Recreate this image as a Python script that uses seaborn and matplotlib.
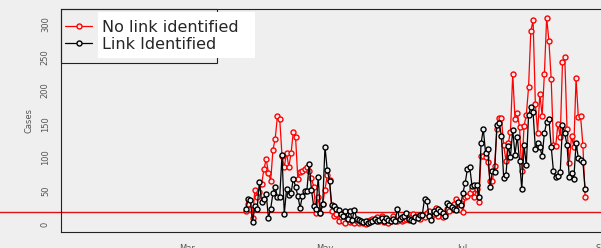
import pandas as pd
import matplotlib
matplotlib.use("Agg")
import matplotlib.pyplot as plt
import seaborn as sns
from matplotlib.patches import Rectangle

# daily counts from 27 Mar
start_date = "2020-03-27"
no_link = [20, 30, 22, 9, 51, 40, 48, 60, 82, 97, 77, 65, 111, 128, 162, 157, 102, 85, 107, 85,
           106, 138, 130, 67, 78, 80, 82, 85, 80, 69, 56, 17, 40, 17, 30, 51, 73, 66, 20,
           12, 15, 5, 10, 4, 2, 7, 3, 5, 2, 4, 1, 3, 2, 0, 4, 6, 8, 6, 10, 5, 12, 3, 7, 2,
           5, 12, 6, 4, 8, 5, 6, 8, 6, 10, 15, 10, 12, 8, 14, 10, 16, 20,
           10, 15, 24, 12, 20, 10, 15, 22, 19, 25, 30, 38, 30, 32, 18, 40, 42, 46, 52, 40,
           53, 33, 102, 102, 100, 93, 65, 64, 87, 142, 158,
           158, 118, 95, 121, 138, 225, 157, 166, 145, 79, 147, 163, 205, 289, 305, 180, 137,
           195, 162, 225, 309, 274, 217, 118, 117, 150, 130, 242, 250, 143, 92, 132, 115, 218,
           160, 161, 119, 41]
linked = [22, 37, 36, 3, 27, 23, 63, 33, 37, 45, 9, 23, 46, 55, 40, 41, 103, 15, 52, 44,
          46, 68, 56, 42, 24, 42, 50, 50, 90, 51, 27, 23, 70, 16, 30, 116, 81, 65, 28,
          27, 23, 21, 15, 12, 20, 8, 20, 6, 21, 8, 6, 5, 3, 4, 2, 3, 5, 7, 4, 6, 9, 5, 9, 6,
          4, 8, 5, 22, 7, 10, 12, 17, 7, 6, 5, 10, 9, 14, 13, 38, 35, 12,
          6, 19, 17, 23, 20, 16, 12, 32, 28, 25, 22, 21, 33, 28, 47, 62, 83, 85, 57, 59,
          59, 41, 121, 142, 106, 113, 55, 79, 78, 149, 151,
          132, 69, 74, 117, 101, 141, 104, 131, 95, 52, 118, 88, 163, 175, 167, 113, 121, 115,
          102, 136, 153, 157, 116, 79, 71, 72, 78, 148, 136, 118, 70, 76, 68, 121, 99, 96,
          93, 53]
ref_level = 17.5
y_ticks = [0, 50, 100, 150, 200, 250, 300]
x_ticks = ["2020-03-01", "2020-05-01", "2020-07-01", "2020-09-01"]
x_labels = ["Mar", "May", "Jul", "Sep"]
series_labels = ["No link identified", "Link Identified"]

df = pd.DataFrame({
    "date": pd.date_range(start_date, periods=len(no_link), freq="D"),
    "no_link": no_link,
    "linked": linked,
})

bg = "#efefef"
sns.set_style("white")
plt.rcParams["font.family"] = ["DejaVu Sans"]

fig = plt.figure(figsize=(6.01, 2.48), dpi=100, facecolor=bg)
ax = fig.add_axes([61 / 601, 16 / 248, 549 / 601, 223 / 248])
ax.set_facecolor(bg)

sns.lineplot(data=df, x="date", y="no_link", ax=ax, color="red", lw=0.9,
             marker="o", ms=3.6, mfc=bg, mec="red", mew=1.0, label=series_labels[0])
sns.lineplot(data=df, x="date", y="linked", ax=ax, color="black", lw=0.9,
             marker="o", ms=3.6, mfc=bg, mec="black", mew=1.0, label=series_labels[1])

ax.axhline(ref_level, xmin=-0.2, xmax=1.2, clip_on=False, color="#e01010", lw=1.0, zorder=1)

mar1 = pd.Timestamp("2020-03-01")
ax.set_xlim(mar1 - pd.Timedelta(days=55.7), mar1 + pd.Timedelta(days=187))
ax.set_ylim(-12, 322)
ax.set_xticks(pd.to_datetime(x_ticks))
ax.set_xticklabels(x_labels)
ax.set_yticks(y_ticks)
ax.set_yticklabels([str(v) for v in y_ticks], rotation=90, va="center")
ax.tick_params(axis="both", length=4, width=0.8, color="#222222",
               labelsize=6, labelcolor="#555555")
ax.tick_params(axis="y", pad=4)
ax.tick_params(axis="x", pad=4.5)
ax.set_xlabel("")
ax.set_ylabel("Cases", fontsize=6, color="#555555")
ax.yaxis.set_label_coords(-0.051, 0.5)
for s in ax.spines.values():
    s.set_color("#222222")
    s.set_linewidth(0.8)

# legend box like base R
ax.add_patch(Rectangle((0, 0.758), 0.284, 0.242, transform=ax.transAxes, fill=False,
                       edgecolor="#222222", lw=0.8, zorder=3, clip_on=False))
ax.add_patch(Rectangle((0.0674, 0.780), 0.286, 0.207, transform=ax.transAxes,
                       facecolor="white", edgecolor="none", zorder=4))
ax.legend(loc="upper left", bbox_to_anchor=(0.0073, 0.952), frameon=False, fontsize=11.5,
          handlelength=1.7, handletextpad=0.6, labelspacing=0.12, borderpad=0,
          borderaxespad=0)

fig.savefig("out.png", dpi=100, facecolor=bg)
